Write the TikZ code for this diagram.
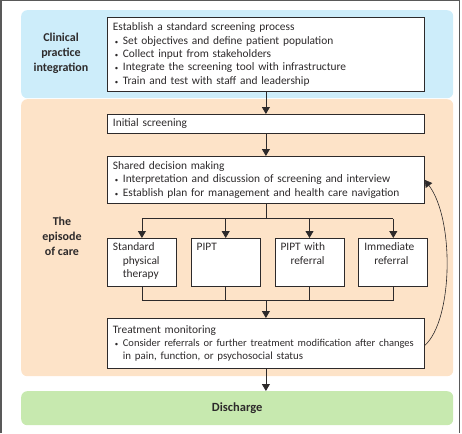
\documentclass[tikz,border=0pt]{standalone}
\usepackage{fontspec}
\setmainfont{Carlito}
\usepackage{tikz}
\usetikzlibrary{
    positioning,      % For placing the four treatment boxes side by side
    arrows.meta       % For the filled triangle tips
}
\definecolor{bandblue}{RGB}{205,237,250}
\definecolor{bandorange}{RGB}{253,227,200}
\definecolor{bandgreen}{RGB}{199,233,175}
\definecolor{inkgray}{RGB}{45,42,43}
\newcommand{\bitem}{\hspace*{2pt}\makebox[8pt][l]{\scalebox{0.6}{\textbullet}}}
\newcommand{\bcont}{\hspace*{10pt}}

\begin{document}
\begin{tikzpicture}[
    x=1pt, y=-1pt,
    % Global style settings
    every node/.style={text=inkgray},
    % Style for the coloured background bands
    band_style/.style={
        rounded corners=6pt,
        minimum width=432pt,
        anchor=north west,
        inner sep=0pt
    },
    % Style for the white process boxes
    box_style/.style={
        draw=inkgray, fill=white,
        line width=0.8pt,
        font=\fontsize{11.4}{13.3}\selectfont,
        align=left,
        anchor=north west,
        inner xsep=5.5pt, inner ysep=0pt
    },
    % Style for the four small treatment boxes
    option_style/.style={
        box_style,
        text width=58pt, minimum width=69pt,
        inner ysep=5pt,
        text height=7.5pt, text depth=30.5pt
    },
    % Style for the bold labels on the left
    side_label/.style={
        font=\fontsize{12}{15}\selectfont\bfseries,
        align=center
    },
    % Style for connectors
    link/.style={
        draw=inkgray, line width=0.8pt
    },
    arrow_tip/.style={
        -{Triangle[length=7pt, width=8pt]}
    }
]
    \useasboundingbox (0,0) rectangle (462,433);

    % 1. Background bands and the outer frame.
    \node[band_style, fill=bandblue, minimum height=88pt] (band_clinical) at (21,10) {};
    \node[band_style, fill=bandorange, minimum height=277pt] (band_episode) at (21,99) {};
    \node[band_style, fill=bandgreen, minimum height=34pt, font=\fontsize{12.5}{14}\selectfont\bfseries] (discharge) at (21,391) {Discharge};
    \draw[gray!70!black, line width=1.5pt] (0.75,433) -- (0.75,0.75) -- (459.5,0.75) -- (459.5,433);

    % 2. Labels for the bands.
    \node[side_label] (clinical_label) at (61,53) {Clinical\\practice\\integration};
    \node[side_label] (episode_label) at (62,236) {The\\episode\\of care};

    % 3. The main process boxes.
    \node[box_style, text width=306pt, minimum width=317pt, minimum height=74pt] (establish) at (107,17)
        {Establish a standard screening process\\
         \bitem Set objectives and define patient population\\
         \bitem Collect input from stakeholders\\
         \bitem Integrate the screening tool with infrastructure\\
         \bitem Train and test with staff and leadership};
    \node[box_style, text width=306pt, minimum width=317pt, minimum height=19pt] (initial) at (107,114)
        {Initial screening};
    \node[box_style, text width=306pt, minimum width=317pt, minimum height=47pt] (shared) at (107,156)
        {Shared decision making\\
         \bitem Interpretation and discussion of screening and interview\\
         \bitem Establish plan for management and health care navigation};

    % 4. The four treatment options, side by side.
    \node[option_style] (standard_pt) at (107,238)
        {Standard\\\bcont physical\\\bcont therapy};
    \node[option_style, right=14pt of standard_pt.north east, anchor=north west] (pipt) {PIPT};
    \node[option_style, right=14pt of pipt.north east, anchor=north west] (pipt_ref)
        {PIPT with\\\bcont referral};
    \node[option_style, right=14pt of pipt_ref.north east, anchor=north west] (immediate)
        {Immediate\\\bcont referral};

    \node[box_style, text width=306pt, minimum width=317pt, minimum height=50pt] (monitoring) at (107,318)
        {Treatment monitoring\\
         \bitem{\fontsize{10.5}{13.3}\selectfont Consider referrals or further treatment modification after changes}\\
         \bcont{\fontsize{10.9}{13.3}\selectfont in pain, function, or psychosocial status}};

    % 5. Connectors.
    \coordinate (split) at ([yshift=-15pt]shared.south);
    \coordinate (merge) at ([yshift=-14pt]pipt.south -| shared.south);
    \draw[link, arrow_tip] (establish) -- (initial);
    \draw[link, arrow_tip] (initial) -- (shared);
    \draw[link] (shared.south) -- (split);
    \draw[link] (split -| standard_pt.south) -- (split -| immediate.south);
    \foreach \opt in {standard_pt, pipt, pipt_ref, immediate} {
        \draw[link, arrow_tip] (split -| \opt.north) -- (\opt.north);
        \draw[link] (\opt.south) -- (merge -| \opt.south);
    }
    \draw[link] (merge -| standard_pt.south) -- (merge -| immediate.south);
    \draw[link, arrow_tip] (merge) -- (monitoring.north);
    \draw[link, arrow_tip] (monitoring.south) -- (monitoring.south |- discharge.north);

    % 6. Feedback loop back to shared decision making.
    \draw[link, line width=0.6pt, arrow_tip] ([yshift=-2pt]monitoring.east)
        .. controls +(28,-25) and +(30,40) .. (shared.east);

\end{tikzpicture}
\end{document}
